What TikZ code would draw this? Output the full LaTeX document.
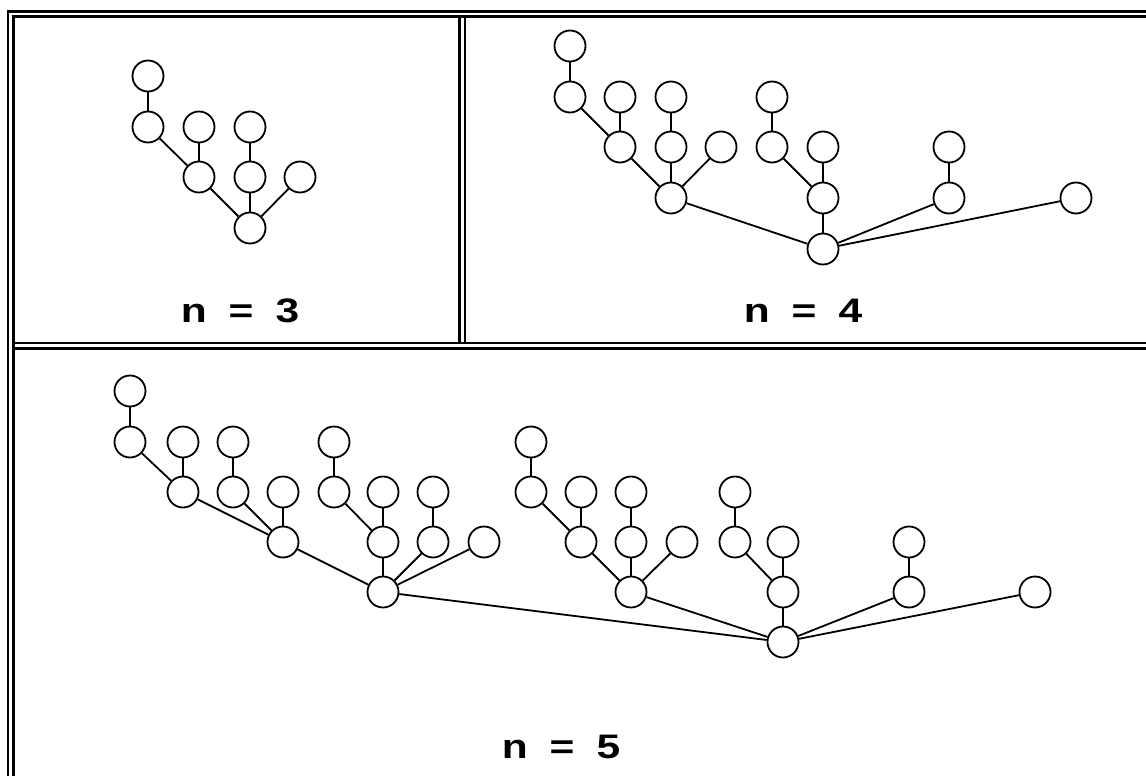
\documentclass[tikz,border=0pt]{standalone}
\usepackage{fontspec}
\setmainfont{Liberation Sans}
\newfontfamily\lblfont[FakeStretch=1.25]{Liberation Sans}
\begin{document}
\begin{tikzpicture}[x=1pt,y=-1pt,
  v/.style={circle,draw,line width=1.8pt,minimum size=31pt,inner sep=0pt,fill=white},
  ed/.style={line width=1.8pt},
  frm/.style={line width=2.2pt},
  lbl/.style={anchor=base,font=\lblfont\bfseries\fontsize{34}{40}\selectfont,inner sep=0pt}]
\useasboundingbox (0,0) rectangle (1146,776);
\clip (0,0) rectangle (1146,776);
% frame
\draw[frm] (8,800) -- (8,11.5) -- (1160,11.5);
\draw[frm] (13.5,800) -- (13.5,16.5) -- (1160,16.5);
\draw[frm] (13.5,343) -- (1160,343);
\draw[frm] (13.5,348.5) -- (1160,348.5);
\draw[frm] (459.5,16.5) -- (459.5,343);
\draw[frm] (465,16.5) -- (465,343);
% n = 3
\node[v] (a1) at (148,76) {};
\node[v] (a2) at (148,127) {};
\node[v] (a3) at (199,127) {};
\node[v] (a4) at (250,127) {};
\node[v] (a5) at (199,177) {};
\node[v] (a6) at (250,177) {};
\node[v] (a7) at (300,177) {};
\node[v] (a8) at (250,228) {};
\foreach \p/\q in {a1/a2,a2/a5,a3/a5,a5/a8,a4/a6,a6/a8,a7/a8}
  \draw[ed] (\p) -- (\q);
\node[lbl] (l3) at (240,322) {n\hspace{22pt}=\hspace{22pt}3};
% n = 4
\node[v] (b1) at (570,46) {};
\node[v] (b2) at (570,97) {};
\node[v] (b3) at (620,97) {};
\node[v] (b4) at (671,97) {};
\node[v] (b5) at (772,97) {};
\node[v] (b6) at (620,147) {};
\node[v] (b7) at (671,147) {};
\node[v] (b8) at (721,147) {};
\node[v] (b9) at (772,147) {};
\node[v] (b10) at (823,147) {};
\node[v] (b11) at (949,147) {};
\node[v] (b12) at (671,198) {};
\node[v] (b13) at (823,198) {};
\node[v] (b14) at (949,198) {};
\node[v] (b15) at (1076,198) {};
\node[v] (b16) at (823,249) {};
\foreach \p/\q in {b1/b2,b2/b6,b3/b6,b6/b12,b4/b7,b7/b12,b8/b12,b12/b16,b5/b9,b9/b13,b10/b13,b13/b16,b11/b14,b14/b16,b15/b16}
  \draw[ed] (\p) -- (\q);
\node[lbl] (l4) at (803,322) {n\hspace{22pt}=\hspace{22pt}4};
% n = 5
\node[v] (c1) at (130,391) {};
\node[v] (c2) at (130,442) {};
\node[v] (c3) at (183,442) {};
\node[v] (c4) at (233,442) {};
\node[v] (c5) at (334,442) {};
\node[v] (c6) at (531,442) {};
\node[v] (c7) at (183,492) {};
\node[v] (c8) at (233,492) {};
\node[v] (c9) at (283,492) {};
\node[v] (c10) at (334,492) {};
\node[v] (c11) at (383,492) {};
\node[v] (c12) at (433,492) {};
\node[v] (c13) at (531,492) {};
\node[v] (c14) at (581,492) {};
\node[v] (c15) at (631,492) {};
\node[v] (c16) at (735,492) {};
\node[v] (c17) at (283,542) {};
\node[v] (c18) at (383,542) {};
\node[v] (c19) at (433,542) {};
\node[v] (c20) at (484,542) {};
\node[v] (c21) at (581,542) {};
\node[v] (c22) at (631,542) {};
\node[v] (c23) at (682,542) {};
\node[v] (c24) at (735,542) {};
\node[v] (c25) at (783,542) {};
\node[v] (c26) at (909,542) {};
\node[v] (c27) at (383,592) {};
\node[v] (c28) at (631,592) {};
\node[v] (c29) at (783,592) {};
\node[v] (c30) at (909,592) {};
\node[v] (c31) at (1035,592) {};
\node[v] (c32) at (783,642) {};
\foreach \p/\q in {c1/c2,c2/c7,c3/c7,c7/c17,c4/c8,c8/c17,c9/c17,c17/c27,
  c5/c10,c10/c18,c11/c18,c18/c27,c12/c19,c19/c27,c20/c27,c27/c32,
  c6/c13,c13/c21,c14/c21,c21/c28,c15/c22,c22/c28,c23/c28,c28/c32,
  c16/c24,c24/c29,c25/c29,c29/c32,c26/c30,c30/c32,c31/c32}
  \draw[ed] (\p) -- (\q);
\node[lbl] (l5) at (561,758) {n\hspace{22pt}=\hspace{22pt}5};
\end{tikzpicture}
\end{document}
